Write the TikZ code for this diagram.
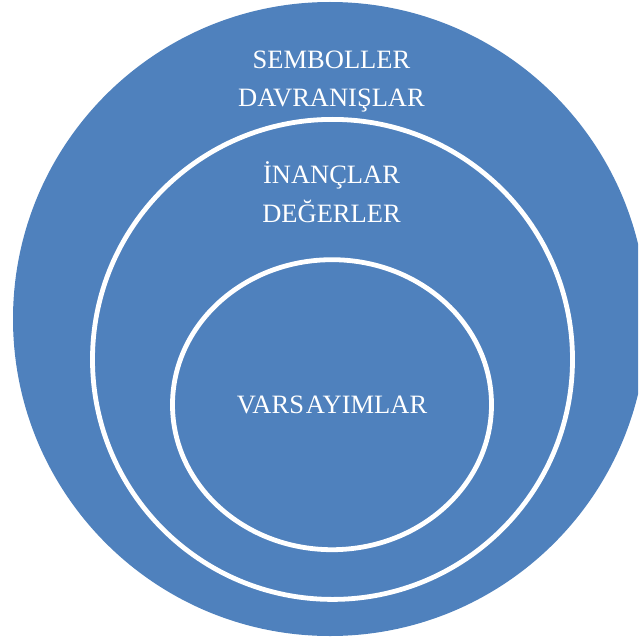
\documentclass[tikz,border=0pt]{standalone}
\usepackage{fontspec}
\setmainfont{Liberation Serif}
\definecolor{layerblue}{HTML}{4F81BD}
\begin{document}
\begin{tikzpicture}[x=1pt,y=-1pt,
  layer/.style={fill=layerblue},
  ring/.style={draw=white,line width=4.8pt},
  lbl/.style={text=white,font=\fontsize{26.5}{31}\selectfont,anchor=base,inner sep=0pt}]
  \useasboundingbox (0,0) rectangle (638,639);
  \clip (0,0) rectangle (638,639);
  % outer layer: symbols and behaviours
  \fill[layer] (330,319) circle[radius=317];
  % middle layer: beliefs and values
  \draw[ring] (332.5,359.4) ellipse[x radius=240,y radius=240];
  % core: assumptions
  \draw[ring] (332,404.7) ellipse[x radius=159.5,y radius=145];
  \node[lbl] (sym) at (331.5,69) {SEMBOLLER};
  \node[lbl] (beh) at (331.5,107) {DAVRANIŞLAR};
  \node[lbl] (bel) at (331.5,183) {İNANÇLAR};
  \node[lbl] (val) at (331.5,222) {DEĞERLER};
  \node[lbl] (asm) at (332,413) {VARS\kern2ptAYIMLAR};
\end{tikzpicture}
\end{document}
